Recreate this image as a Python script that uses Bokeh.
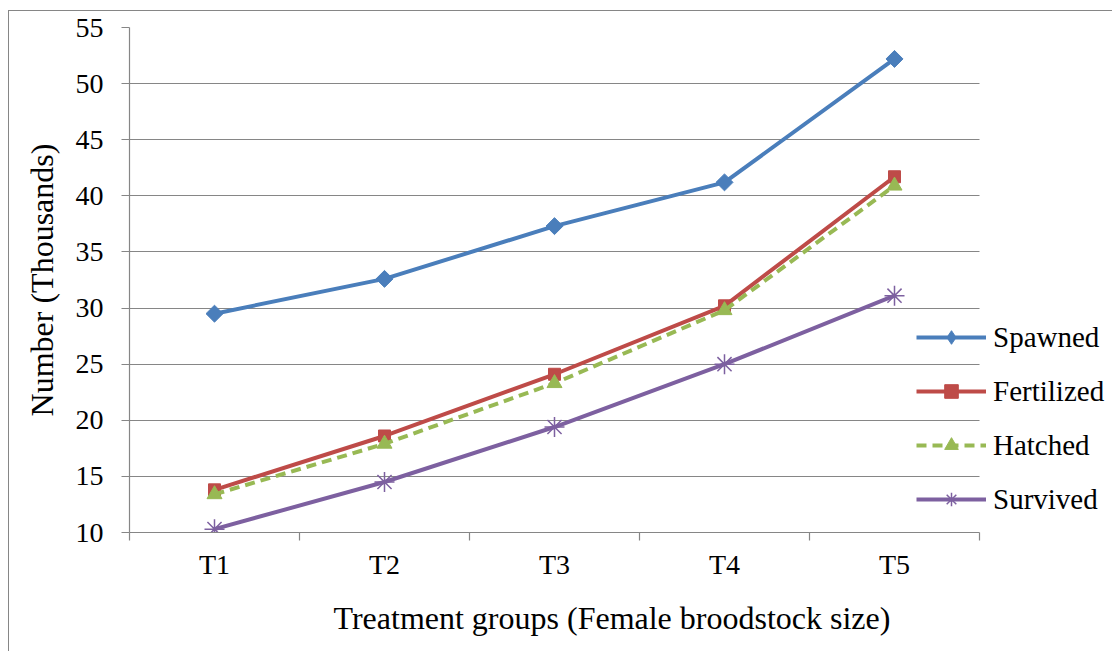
import numpy as np
from bokeh.plotting import figure
from bokeh.models import Range1d, FixedTicker, Legend, LegendItem, Title
from bokeh.embed import file_html
from bokeh.resources import INLINE

categories = ["T1", "T2", "T3", "T4", "T5"]
spawned = [29.5, 32.6, 37.3, 41.2, 52.2]
fertilized = [13.8, 18.6, 24.1, 30.2, 41.7]
hatched = [13.4, 17.9, 23.3, 29.8, 40.9]
survived = [10.3, 14.5, 19.4, 25.0, 31.1]
y_ticks = [10, 15, 20, 25, 30, 35, 40, 45, 50, 55]

FONT = "Liberation Serif"
GRID = "#868686"
BLUE = "#4A7EBB"
RED = "#BE4B48"
GREEN = "#98B954"
PURPLE = "#7D60A0"

n = len(categories)
xs = [i + 0.5 for i in range(n)]

# frame spans from plot-area left edge to the right edge of the page so that the
# legend (which overlaps the plot area's right end) is not clipped
PX_PER_CAT = 170.0
RIGHT_EXTRA = 134.0

p = figure(width=1104, height=641, output_backend="svg", toolbar_location=None,
           x_range=Range1d(0, n + RIGHT_EXTRA / PX_PER_CAT),
           y_range=Range1d(y_ticks[0], y_ticks[-1]),
           min_border_left=120, min_border_right=0, min_border_top=16, min_border_bottom=120)
p.margin = (10, 0, 0, 8)
p.styles = {"border-left": "1px solid #868686", "border-top": "1px solid #868686"}
p.outline_line_color = None
p.background_fill_color = "white"
p.border_fill_color = "white"

p.xgrid.grid_line_color = None
p.ygrid.grid_line_color = GRID
p.ygrid.grid_line_width = 1.2
p.ygrid.ticker = FixedTicker(ticks=y_ticks)
p.ygrid.cross_bounds = (0, n)

# x axis
xa = p.xaxis[0]
xa.bounds = (0, n)
xa.ticker = FixedTicker(ticks=xs, minor_ticks=list(range(n + 1)))
xa.major_label_overrides = {x: c for x, c in zip(xs, categories)}
xa.major_tick_line_color = None
xa.major_tick_out = 0
xa.major_tick_in = 0
xa.minor_tick_line_color = GRID
xa.minor_tick_out = 8
xa.minor_tick_in = 0
xa.minor_tick_line_width = 1.2
xa.axis_line_color = GRID
xa.axis_line_width = 1.2
xa.major_label_text_font = FONT
xa.major_label_text_font_size = "28px"
xa.major_label_text_color = "black"
xa.major_label_standoff = 8

# y axis
ya = p.yaxis[0]
ya.ticker = FixedTicker(ticks=y_ticks)
ya.major_tick_line_color = GRID
ya.major_tick_out = 8
ya.major_tick_in = 0
ya.major_tick_line_width = 1.2
ya.minor_tick_line_color = None
ya.axis_line_color = GRID
ya.axis_line_width = 1.2
ya.major_label_text_font = FONT
ya.major_label_text_font_size = "28px"
ya.major_label_text_color = "black"
ya.major_label_standoff = 18
ya.axis_label = "Number (Thousands)"
ya.axis_label_text_font = FONT
ya.axis_label_text_font_size = "32px"
ya.axis_label_text_font_style = "normal"
ya.axis_label_text_color = "black"
ya.axis_label_standoff = 13

# x title (placed a little right of the plot-area centre, as in the reference)
xt = Title(text="Treatment groups (Female broodstock size)", align="left", offset=204,
           text_font=FONT, text_font_size="32px", text_font_style="normal",
           text_color="black", standoff=30)
p.add_layout(xt, "below")

# series
l1 = p.line(xs, spawned, line_color=BLUE, line_width=4)
d1 = p.scatter(xs, spawned, marker="diamond", size=14, fill_color=BLUE, line_color=BLUE)
m1 = p.scatter(xs, spawned, marker="square", angle=np.pi / 4, size=12,
               fill_color=BLUE, line_color=BLUE)
l2 = p.line(xs, fertilized, line_color=RED, line_width=4)
m2 = p.scatter(xs, fertilized, marker="square", size=12, fill_color=RED, line_color=RED)
l3 = p.line(xs, hatched, line_color=GREEN, line_width=4, line_dash="10 6")
m3 = p.scatter(xs, hatched, marker="triangle", size=15, fill_color=GREEN, line_color=GREEN)
l4 = p.line(xs, survived, line_color=PURPLE, line_width=4)
m4 = p.scatter(xs, survived, marker="asterisk", size=20, line_color=PURPLE, line_width=1.5)

legend = Legend(items=[
    LegendItem(label="Spawned", renderers=[l1, d1]),
    LegendItem(label="Fertilized", renderers=[l2, m2]),
    LegendItem(label="Hatched", renderers=[l3, m3]),
    LegendItem(label="Survived", renderers=[l4, m4]),
], location=(787, 16))
legend.background_fill_alpha = 0
legend.border_line_color = None
legend.padding = 0
legend.margin = 0
legend.spacing = 20
legend.glyph_width = 70
legend.glyph_height = 34
legend.label_height = 34
legend.label_standoff = 7
legend.label_text_font = FONT
legend.label_text_font_size = "29px"
legend.label_text_color = "black"
p.add_layout(legend, "center")

open("out.html", "w").write(file_html(p, INLINE))
